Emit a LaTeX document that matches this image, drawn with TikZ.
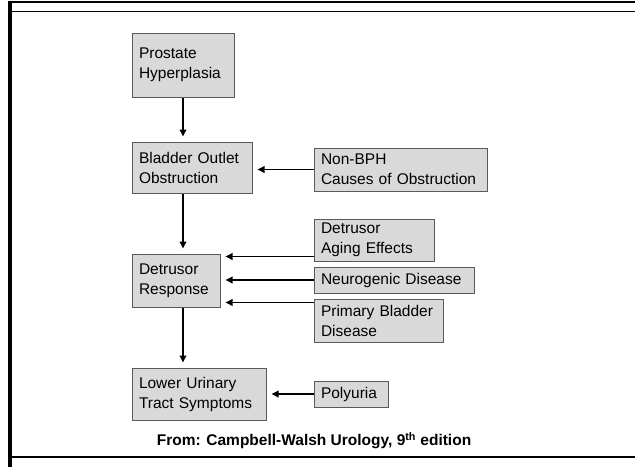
\documentclass[tikz,border=0pt]{standalone}
\usepackage{fontspec}
\setmainfont{Liberation Sans}
\usetikzlibrary{arrows.meta}
\definecolor{boxgray}{HTML}{D9D9D9}
\definecolor{edgegray}{HTML}{5A5A5A}
\tikzset{
	box/.style={draw=edgegray, line width=1pt, fill=boxgray, inner xsep=7pt, inner ysep=0pt, align=left, font=\fontsize{15.5}{20}\selectfont},
	arr/.style={-{Triangle[length=7pt,width=6.5pt]}, line width=1.8pt, shorten >=5pt}
}
\begin{document}
\begin{tikzpicture}[x=1pt,y=-1pt]
	\useasboundingbox (0,0) rectangle (635,467);
	\draw[line width=4pt]	(10,0.5) -- (10,467);
	\draw[line width=2.5pt]	(8,2) -- (635,2);
	\draw[line width=1pt]	(10,11) -- (635,11);
	\draw[line width=1.2pt]	(10,457) -- (635,457);

	\node (PH) at (183, 65)		[box, text width=88pt,  minimum height=64pt]	{Prostate\\Hyperplasia};
	\node (BOO) at (192, 167.5)	[box, text width=106pt, minimum height=51pt]	{Bladder Outlet\\Obstruction};
	\node (NB) at (400.5, 169.5)	[box, text width=159pt, minimum height=43pt]	{Non-BPH\\Causes of Obstruction};
	\node (DA) at (374, 240)	[box, text width=106pt, minimum height=42pt]	{Detrusor\\Aging Effects};
	\node (DR) at (176, 280.5)	[box, text width=74pt,  minimum height=53pt]	{Detrusor\\Response};
	\node (ND) at (394, 280)	[box, text width=146pt, minimum height=26pt]	{Neurogenic Disease};
	\node (PB) at (378.5, 320.5)	[box, text width=115pt, minimum height=43pt]	{Primary Bladder\\Disease};
	\node (LU) at (199, 394)	[box, text width=120pt, minimum height=52pt]	{Lower Urinary\\Tract Symptoms};
	\node (PO) at (351, 394)	[box, text width=60pt,  minimum height=26pt]	{Polyuria};
	\node (SRC) at (314, 441)	[font=\bfseries\fontsize{15.5}{18}\selectfont]	{From: Campbell-Walsh Urology, 9\textsuperscript{th} edition};

	\draw[arr] (PH.south) -- (PH.south |- BOO.north);
	\draw[arr] (BOO.south -| PH.south) -- (DR.north -| PH.south);
	\draw[arr] (DR.south -| PH.south) -- (LU.north -| PH.south);
	\draw[arr] (NB.west) -- (NB.west -| BOO.east);
	\draw[arr] ([yshift=5pt]DA.south west) -- ([yshift=5pt]DA.south west -| DR.east);
	\draw[arr] (ND.west) -- (ND.west -| DR.east);
	\draw[arr] ([yshift=-4pt]PB.north west) -- ([yshift=-4pt]PB.north west -| DR.east);
	\draw[arr] (PO.west) -- (PO.west -| LU.east);
\end{tikzpicture}
\end{document}
